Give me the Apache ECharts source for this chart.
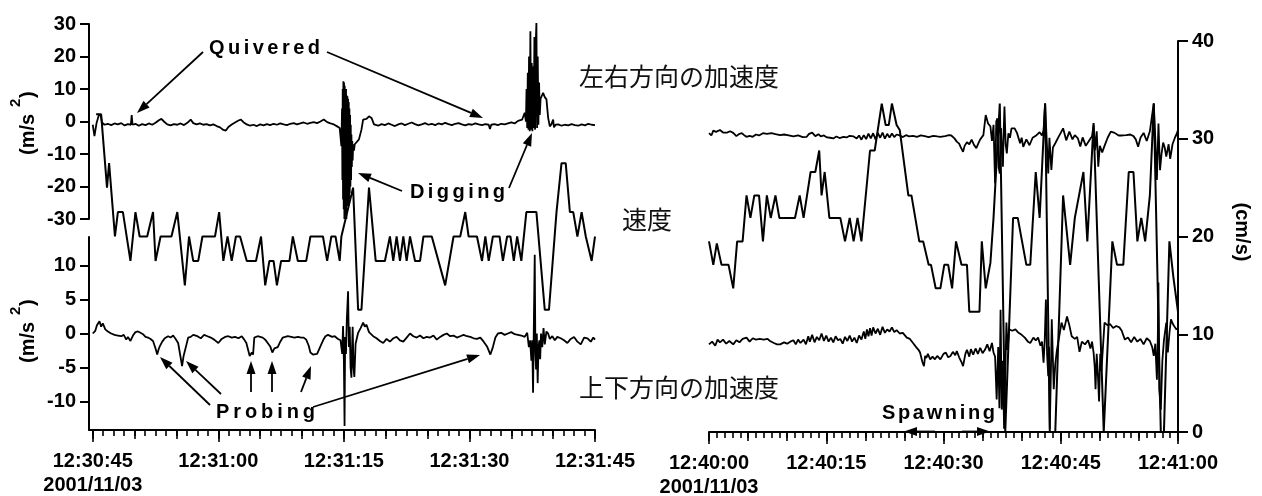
<!DOCTYPE html>
<html>
<head>
<meta charset="UTF-8">
<title>加速度と速度</title>
<script src="https://cdn.jsdelivr.net/npm/echarts@6/dist/echarts.min.js"></script>
</head>
<body style="margin:0;background:#fff">
<div id="main" style="width:1262px;height:496px"></div>
<script>
// time in seconds from the start of each panel, value
var leftTimeLabels = ['12:30:45\n2001/11/03', '12:31:00', '12:31:15', '12:31:30', '12:31:45'];
var rightTimeLabels = ['12:40:00\n2001/11/03', '12:40:15', '12:40:30', '12:40:45', '12:41:00'];
var labelSeconds = [0, 15, 30, 45, 60];
var vertTicks = [-10, -5, 0, 5, 10];

// left panel: lateral acceleration (m/s2)
var leftLat = [
[0,-1],[0.2,-4.5],[0.45,-0.5],[0.7,1.8],[0.95,2],[1.1,-0.3],[1.4,-1],[1.8,-0.7],[2.2,-1.1],[2.6,-0.6],[3.0,-0.9],[3.4,-0.5],[3.8,-1.2],[4.2,-0.8],[4.55,-1],[4.65,2],[4.75,-1],[5.1,-0.7],[5.5,-1.3],[5.9,-0.8],[6.3,-1.1],[6.7,-0.6],[7.1,-1],[7.5,-0.4],[7.9,0.4],[8.2,0.8],[8.5,0],[8.9,-0.9],[9.3,-1.2],[9.7,-0.8],[10.1,-1],[10.5,-0.6],[10.9,-1.1],[11.3,-0.4],[11.7,0.6],[12.0,-0.5],[12.4,-0.9],[12.8,-0.6],[13.2,-1],[13.6,-0.8],[14.0,-1.2],[14.4,-0.9],[14.8,-1.4],[15.2,-1.8],[15.6,-2.6],[15.9,-2.8],[16.2,-1.7],[16.6,-0.9],[17.0,-0.3],[17.4,0.3],[17.7,0.6],[18.0,-0.2],[18.4,-0.9],[18.8,-1.3],[19.2,-1],[19.6,-1.4],[20.0,-0.9],[20.4,-1.2],[20.8,-0.8],[21.2,-1.1],[21.6,-0.7],[22.0,-1],[22.4,-0.6],[22.8,-0.9],[23.2,-1.1],[23.6,-0.7],[24.0,-0.5],[24.4,-0.9],[24.8,-0.6],[25.2,-0.3],[25.6,-0.7],[26.0,-0.4],[26.4,-0.2],[26.8,-0.5],[27.2,0],[27.6,0.6],[28.0,-0.2],[28.4,-0.6],[28.8,-0.9],[29.2,-1.5],[29.5,-2],[29.7,-7.6],
[29.78,4],[29.82,-18],[29.86,10],[29.9,-24],[29.94,12.4],[29.98,-27],[30.02,12],[30.06,-30],[30.1,11],[30.14,-29],[30.18,9],[30.22,-27],[30.26,10],[30.3,-30],[30.34,8],[30.38,-26],[30.42,7.8],[30.46,-25],[30.5,7],[30.54,-26],[30.58,6],[30.62,-24],[30.66,4],[30.7,-22],[30.74,2],[30.78,-20],[30.82,-1],[30.86,-18],[30.9,-4],[30.95,-14],[31.0,-6],[31.05,-12],[31.1,-7],[31.2,-9],[31.3,-7],
[31.5,-7],[31.8,-5.5],[32.1,-2.5],[32.3,0.6],[32.7,0.8],[33.0,1.6],[33.3,1.1],[33.6,-0.9],[34.1,-1.3],[34.5,-0.8],[34.9,-1.1],[35.3,-0.6],[35.7,-1],[36.1,-1.4],[36.5,-0.9],[36.9,-0.6],[37.3,-1.1],[37.7,-0.7],[38.1,-0.3],[38.5,-0.8],[38.9,-1.2],[39.3,-0.9],[39.7,-0.5],[40.1,-1],[40.5,-0.7],[40.9,-1.1],[41.3,-0.6],[41.7,-0.9],[42.1,-0.4],[42.5,-0.8],[42.9,-1.1],[43.3,-0.7],[43.7,-0.5],[44.1,-0.9],[44.5,-1.2],[44.9,-0.8],[45.3,-1],[45.7,-0.6],[46.1,-0.9],[46.5,-1.1],[46.9,-0.8],[47.3,-1],[47.45,-2.3],[47.6,-1],[48.0,-0.8],[48.4,-1.1],[48.8,-0.7],[49.2,-0.9],[49.6,-0.6],[50.0,-0.3],[50.4,-0.6],[50.8,0.2],[51.3,0.6],[51.6,2.7],
[51.75,0],[51.82,10],[51.9,-2],[51.97,15],[52.05,-2.5],[52.12,20],[52.2,-3],[52.28,27.8],[52.36,-2.5],[52.44,18],[52.52,-3],[52.6,17],[52.68,-2],[52.76,26],[52.84,-2.5],[52.92,24],[53.0,30.4],[53.08,-2],[53.16,20],[53.24,-1],[53.32,12],[53.4,2],[53.5,7],[53.65,6.8],[53.8,8.8],[54.0,7.5],[54.2,6.8],[54.4,1.2],[54.6,-1.5],[54.8,-0.8],[55.0,0.6],[55.1,-1.8],[55.3,-1],[55.6,-0.9],[56.0,-1.3],[56.4,-1],[56.8,-1.2],[57.2,-0.8],[57.6,-1.1],[58.0,-1.3],[58.4,-0.9],[58.8,-1.2],[59.2,-0.7],[59.6,-1],[60,-1.1]
];

// left panel: vertical acceleration (m/s2)
var leftVert = [
[0,0],[0.3,0.4],[0.5,1.2],[0.8,1.8],[1.0,1.0],[1.2,1.5],[1.5,0.6],[1.8,0.3],[2.2,0],[2.6,-0.2],[3.0,-0.3],[3.4,-0.4],[3.7,-0.2],[4.0,-0.9],[4.2,-0.5],[4.5,-1.1],[4.8,-0.3],[5.1,0.2],[5.4,0.3],[5.7,0.1],[6.0,-0.1],[6.3,-0.5],[6.6,-0.6],[6.9,-0.8],[7.2,-1.1],[7.5,-2.2],[7.7,-3.1],[7.85,-2.4],[8.0,-1.9],[8.3,-1.2],[8.6,-0.7],[9.0,-0.4],[9.3,-0.6],[9.6,-0.3],[9.9,-0.8],[10.2,-1.4],[10.45,-3.2],[10.67,-4.8],[10.85,-3.3],[11.0,-3.3],[11.2,-1.6],[11.4,-0.6],[11.7,-0.5],[12.0,-0.2],[12.5,-0.4],[12.9,-0.7],[13.3,-0.2],[13.7,-0.4],[14.1,-0.6],[14.5,-0.9],[15.0,-1.4],[15.4,-0.8],[15.8,-0.5],[16.2,-0.4],[16.6,-0.6],[17.0,-0.5],[17.4,-0.7],[17.8,-0.4],[18.1,-0.9],[18.35,-1.4],[18.6,-2.6],[18.75,-3.3],[19.0,-2.8],[19.15,-3.1],[19.3,-0.6],[19.7,-0.4],[20.0,-0.5],[20.3,-0.6],[20.6,-0.9],[20.9,-1.4],[21.2,-1.9],[21.45,-2.8],[21.7,-2.2],[21.9,-2.4],[22.1,-2.0],[22.4,-1.2],[22.7,-0.6],[23.0,-0.5],[23.3,-0.4],[23.7,-0.5],[24.1,-0.6],[24.5,-0.5],[24.9,-0.6],[25.2,-0.6],[25.5,-0.9],[25.8,-1.8],[26.0,-2.8],[26.3,-3.1],[26.5,-3.3],[26.8,-3.0],[27.0,-3.1],[27.3,-1.6],[27.6,-0.8],[27.8,-0.4],[28.1,-0.2],[28.3,-0.1],[28.6,-0.5],[28.9,-0.4],[29.3,-0.8],[29.6,-1],
[29.8,-3],[29.9,1.1],[30.0,-4],[30.08,-13.6],[30.15,-0.5],[30.25,-3],[30.35,2],[30.5,6.2],[30.6,-2],[30.7,1],[30.8,-5],[30.9,-6.5],[30.98,-2],[31.05,1],[31.15,-5],[31.25,-6.4],[31.4,-1.5],[31.7,0.1],[32.0,0.8],[32.3,1.6],[32.5,1.0],[32.7,1.3],[33.0,0.2],[33.5,-0.4],[33.9,-0.7],[34.3,-1.1],[34.7,-1.4],[35.1,-0.8],[35.5,-1.2],[35.9,-0.7],[36.3,-0.5],[36.7,-1.0],[37.1,-1.2],[37.5,-0.6],[37.9,0],[38.3,-0.4],[38.7,-0.6],[39.1,-0.3],[39.5,-0.7],[39.9,-0.5],[40.3,-0.6],[40.7,-0.3],[41.1,-0.9],[41.5,-0.5],[41.9,-0.2],[42.3,0],[42.7,-0.4],[43.1,-0.3],[43.5,-0.6],[43.9,-0.4],[44.3,-0.2],[44.7,-0.4],[45.1,-0.5],[45.5,-0.7],[45.9,-0.8],[46.3,-0.6],[46.7,-1.2],[47.1,-1.9],[47.5,-3.1],[47.8,-2.0],[48.1,-0.6],[48.4,0],[48.8,0.1],[49.2,-0.2],[49.6,0],[50.0,0.2],[50.4,-0.1],[50.8,-0.2],[51.2,-0.3],[51.6,-0.5],[51.9,0.1],
[52.1,-2],[52.25,-1],[52.4,-4],[52.5,-1],[52.6,-8.7],[52.7,2],[52.8,11.6],[52.88,-3],[52.96,-5.3],[53.05,0],[53.15,-7.3],[53.25,-2],[53.35,-1],[53.45,-3.8],[53.55,0],[53.7,-2],[53.85,0.8],[54.0,-1.6],[54.2,0.3],[54.4,0],[54.6,-0.8],[54.9,-0.4],[55.2,-1],[55.5,-0.5],[55.9,-0.7],[56.3,-1.0],[56.7,-1.4],[57.1,-0.8],[57.5,-0.5],[57.9,-1.2],[58.3,-1.6],[58.7,-0.6],[59.1,-0.7],[59.5,-1.2],[59.8,-0.6],[60,-0.9]
];

// left panel: speed (cm/s)
var leftSpeed = [
[0.4,32.5],[1.0,32.5],[1.7,25],[1.95,27.5],[2.65,20],[3.0,22.5],[3.6,22.5],[4.5,17.5],[5.1,22.5],[5.6,20],[6.5,20],[7.2,22.5],[7.5,17.5],[8.1,20],[9.4,20],[10.1,22.5],[11.0,15],[11.5,20],[12.0,17.5],[12.6,17.5],[13.1,20],[14.6,20],[15.1,22.5],[15.6,17.5],[16.1,20],[16.6,17.5],[17.1,20],[17.6,20],[18.4,17.5],[19.5,17.5],[20.1,20],[20.6,15],[21.1,17.5],[21.6,17.5],[22.0,15],[22.5,17.5],[23.5,17.5],[23.9,20],[24.5,17.5],[25.5,17.5],[26.0,20],[27.5,20],[28.0,17.5],[28.5,20],[29.0,20],[29.5,17.5],[29.7,20],[31.1,25],[31.7,12.5],[32.1,12.5],[33.0,25],[33.8,17.5],[34.9,17.5],[35.5,20],[35.9,17.5],[36.3,20],[36.7,17.5],[37.1,20],[37.5,17.5],[37.9,20],[38.5,17.5],[39.1,17.5],[39.5,20],[40.5,20],[42.1,15],[43.1,20],[43.9,20],[44.5,22.5],[44.9,20],[45.9,20],[46.5,17.5],[46.9,20],[47.3,17.5],[47.8,20],[48.6,20],[49.0,17.5],[49.5,20],[49.9,20],[50.3,17.5],[50.7,20],[51.2,17.5],[51.8,22.5],[53.0,22.5],[54.0,12.5],[54.5,12.5],[55.4,22.5],[56.0,27.5],[56.5,27.5],[57.0,22.5],[57.4,22.5],[57.9,20],[58.4,22.5],[58.9,20],[59.6,17.5],[60,20]
];

// right panel: lateral acceleration
var rightLat = [
[0,0.4],[0.3,-0.3],[0.55,1.2],[0.9,0.8],[1.4,1.4],[1.8,0.6],[2.3,0.6],[2.7,1.0],[3.1,0.5],[3.5,-0.5],[3.9,0.2],[4.2,0.4],[4.5,-0.2],[4.8,-0.7],[5.2,-0.4],[5.6,-0.7],[6.0,0],[6.4,-0.3],[6.9,0.4],[7.4,0.2],[8.0,0.4],[8.5,0.1],[9.1,-0.2],[9.6,0],[10.2,-0.3],[10.8,-0.6],[11.4,-0.3],[12.0,-0.8],[12.5,-0.7],[12.8,0.2],[13.2,0.6],[13.6,-0.5],[14.0,0.1],[14.3,-0.6],[14.7,-0.3],[15.1,-0.9],[15.5,-1.0],[15.9,-1.2],[16.3,-0.6],[16.7,-1.1],[17.2,-0.7],[17.6,-0.9],[18.0,-0.4],[18.5,-0.6],[18.9,-1.2],[19.2,-0.3],[19.5,-1.6],[19.8,-0.2],[20.1,-1.4],[20.4,0.3],[20.7,-1.2],[21.0,0.4],[21.3,-1.5],[21.6,0.5],[21.9,-1.0],[22.2,0.6],[22.5,-1.3],[22.8,0.2],[23.1,-0.9],[23.4,0.3],[23.7,-0.8],[24.0,0],[24.4,-0.3],[24.8,-0.8],[25.2,-0.2],[25.6,-0.6],[26.1,-0.4],[26.6,-0.7],[27.1,-0.3],[27.6,-0.5],[28.1,-0.8],[28.7,-0.4],[29.2,-0.6],[29.6,-0.7],[30.2,-0.5],[30.7,-0.2],[31.0,-0.3],[31.4,-1.2],[31.7,-2.2],[32.0,-2.8],[32.2,-3.9],[32.5,-5.3],[32.7,-3.5],[33.0,-2.4],[33.3,-3.0],[33.6,-1.6],[33.9,-3.2],[34.2,-4.2],[34.5,-2.5],[34.7,-1.5],[35.1,-0.2],[35.4,6],[35.7,3.4],[36.0,2.5],[36.2,-2],[36.4,3],[36.6,-15],[36.75,4],[36.9,5],[37.05,-10],[37.2,-12],[37.35,2],[37.5,-6],[37.6,-9.9],[37.7,1],[37.8,8.6],[37.95,-3],[38.1,-5.8],[38.3,0.4],[38.5,-1],[38.7,1.9],[39.1,1.9],[39.4,0.5],[39.8,-2.7],[40.0,-1],[40.2,-3.8],[40.6,-1.5],[41.0,-3.3],[41.4,-1],[41.9,-0.2],[42.3,0.7],[42.6,-0.3],[42.8,1.2],[43.0,9.6],[43.15,1],[43.4,-12],[43.55,-1],[43.8,-10.9],[44.0,-4],[44.3,-2.7],[44.7,-0.8],[45.0,0.5],[45.3,1.9],[45.7,-1.8],[46.1,0.9],[46.5,-1.5],[46.8,-0.2],[47.2,-1.2],[47.5,-3.7],[47.8,-0.9],[48.2,-3.5],[48.6,-2],[49.0,-0.5],[49.2,2.9],[49.4,-4.8],[49.6,1],[49.8,-9.9],[50.0,-3.5],[50.3,-5.5],[50.6,-3.5],[51.0,-1],[51.4,0.9],[51.9,0.5],[52.4,-0.3],[52.9,-0.3],[53.4,-0.2],[53.9,0],[54.3,-0.5],[54.6,-1.5],[54.9,-3.8],[55.2,-1],[55.6,0.5],[56.0,-2],[56.4,1],[56.9,9.6],[57.1,-1.5],[57.3,-14],[57.5,3.4],[57.7,-11],[57.9,-5.8],[58.1,-2.5],[58.3,-4],[58.5,-6.8],[58.8,-3],[59.0,-7.5],[59.3,-3],[59.6,-1],[59.8,0],[60,1.4]
];

// right panel: vertical acceleration
var rightVert = [
[0,-1.6],[0.4,-1.2],[0.8,-1.8],[1.1,-0.9],[1.4,-1.3],[1.8,-0.9],[2.2,-1.5],[2.6,-1.1],[3.1,-1.6],[3.5,-1.0],[3.9,-1.3],[4.3,-0.8],[4.8,-0.6],[5.2,-1.2],[5.6,-0.7],[6.0,-0.9],[6.5,-0.8],[7.0,-0.9],[7.5,-0.8],[7.8,-1.1],[8.3,-1.4],[8.7,-1.6],[9.1,-1.6],[9.6,-1.3],[10.0,-1.5],[10.4,-1.2],[10.8,-1.0],[11.1,-1.6],[11.4,-0.9],[11.7,-1.4],[12.1,-0.9],[12.4,-1.6],[12.7,-0.4],[12.9,-1.2],[13.2,-0.2],[13.5,-1.3],[13.8,-0.5],[14.1,-1.0],[14.4,0],[14.7,-1.1],[15.0,-0.3],[15.3,-1.2],[15.6,-0.6],[15.9,-1.3],[16.2,-0.4],[16.5,-1.0],[16.8,-0.8],[17.1,-1.5],[17.4,-0.5],[17.7,-1.1],[18.0,-0.3],[18.3,-1.2],[18.6,-0.6],[18.9,-1.4],[19.2,-0.3],[19.5,-0.9],[19.8,0.3],[20.0,-0.8],[20.2,0.6],[20.4,-0.4],[20.6,0.8],[20.8,-0.3],[21.0,0.9],[21.3,0],[21.6,0.7],[21.9,-0.2],[22.2,1.0],[22.5,0.1],[22.8,0.6],[23.1,0.3],[23.4,0.9],[23.7,0.2],[24.0,0.5],[24.4,0],[24.8,0.1],[25.3,-0.6],[25.7,-0.8],[26.1,-1.4],[26.5,-2.0],[26.8,-2.4],[27.0,-2.8],[27.3,-4.2],[27.5,-4.8],[27.65,-3.3],[27.8,-3.6],[28.0,-3.0],[28.3,-3.8],[28.6,-3.4],[28.9,-3.8],[29.2,-3.3],[29.6,-3.8],[30.0,-3.0],[30.3,-2.8],[30.6,-3.5],[30.9,-3.3],[31.2,-2.7],[31.5,-3.2],[31.7,-2.6],[32.0,-3.5],[32.3,-4.2],[32.5,-4.8],[32.8,-3.0],[33.0,-2.4],[33.3,-3.4],[33.5,-2.3],[33.8,-3.1],[34.1,-2.2],[34.4,-3.0],[34.7,-2.1],[35.0,-2.9],[35.3,-2.4],[35.6,-1.6],[35.9,-2.6],[36.2,-1.4],[36.4,-2.8],[36.6,-3.4],[36.8,-9.7],[37.0,-2],[37.15,-11],[37.3,3.5],[37.45,-11.2],[37.6,-4],[37.75,-14],[37.9,-6],[38.05,1.6],[38.2,-2.4],[38.4,0.6],[38.8,0.4],[39.2,0.6],[39.6,0.1],[40.0,-0.2],[40.4,-0.6],[40.8,-1.2],[41.1,-1.4],[41.5,-0.6],[41.8,-1.0],[42.1,-0.6],[42.4,-1.8],[42.6,-1.2],[42.8,-4.3],[42.95,-1],[43.1,5],[43.25,-3],[43.4,-6.3],[43.5,-2],[43.6,-14],[43.75,-5],[43.85,2.1],[44.0,-4],[44.1,-8.2],[44.3,-4.5],[44.5,-2.5],[44.8,-0.5],[45.1,1.6],[45.4,0.5],[45.8,2.5],[46.1,1.2],[46.4,-0.4],[46.8,-0.8],[47.1,-0.5],[47.4,-2.7],[47.7,-1.2],[48.1,-1.6],[48.5,-1.0],[48.8,-2.2],[49.0,-1.2],[49.2,-2.8],[49.35,-5],[49.45,-8.2],[49.6,-3],[49.75,-6],[49.9,-10],[50.05,-3],[50.2,-5.5],[50.4,-2],[50.6,1.6],[51.0,1.2],[51.3,1.4],[51.7,0.8],[52.1,1.1],[52.5,0.9],[52.8,0.4],[53.2,-0.9],[53.6,-0.6],[54.0,-1.3],[54.4,-0.5],[54.8,-1.2],[55.2,-0.8],[55.6,-1.6],[56.0,-0.7],[56.4,-1.1],[56.7,-2.0],[56.9,-3.3],[57.1,-1.5],[57.3,-6.8],[57.4,-2],[57.5,7.5],[57.6,-8.2],[57.8,-11.2],[58.0,-4],[58.2,-1],[58.5,1.6],[58.7,-2.8],[58.9,0],[59.1,2.1],[59.3,1.5],[59.5,1.1],[59.8,0.6],[60,0.8]
];

// right panel: speed (cm/s)
var rightSpeed = [
[0,19.5],[0.55,17.1],[1.0,19.3],[1.6,17.1],[2.5,17.1],[3.1,14.7],[3.6,19.5],[4.3,19.5],[4.8,24.2],[5.3,21.9],[5.8,24.2],[6.4,24.2],[6.9,19.5],[7.4,24.2],[7.9,21.9],[8.5,24.2],[9.0,21.9],[11.0,21.9],[11.6,24.2],[12.1,21.9],[13.0,26.6],[13.6,26.6],[14.1,28.8],[14.4,24.2],[14.8,26.6],[15.4,21.9],[16.8,21.9],[17.4,19.5],[18.0,21.9],[18.5,19.5],[19.0,21.9],[19.5,19.5],[20.6,28.8],[21.2,28.8],[22.1,33.6],[22.6,31.4],[23.0,31.4],[23.4,33.6],[24.0,31.4],[24.4,30.9],[25.5,24.2],[25.9,24.2],[26.9,19.5],[27.4,19.5],[28.1,17.1],[28.4,17.1],[29.0,14.7],[29.6,14.7],[30.1,17.1],[30.6,17.1],[31.1,14.7],[31.6,19.5],[32.3,17.1],[33.0,17.1],[33.3,12.3],[34.6,12.3],[34.9,19.5],[35.4,14.7],[36.0,17.3],[36.4,21.9],[37.2,33.6],[37.9,0],[38.1,0],[38.9,21.9],[39.5,21.9],[40.6,17.1],[41.1,17.1],[41.8,26.6],[42.3,21.9],[43.0,33.6],[43.6,0],[44.3,0],[45.3,24.2],[46.2,17.1],[46.8,21.9],[47.9,26.6],[48.4,19.5],[49.2,31.6],[50.5,0],[51.6,19.5],[52.2,17.1],[53.0,17.1],[53.7,26.6],[54.3,26.6],[54.8,19.5],[55.3,21.9],[55.8,19.5],[56.4,24.2],[56.9,33.6],[57.8,0],[58.2,0],[58.9,19.5],[59.4,15.9],[60,12.3]
];

var FONT = '"Liberation Sans", Arial, Helvetica, sans-serif';
var CJK = '"Noto Sans CJK JP", "Noto Sans CJK SC", sans-serif';

// tick positions on the time axes
function steps(step) {
  var out = [];
  for (var v = 0; v <= 60.0001; v += step) out.push(Math.round(v * 100) / 100);
  return out;
}

var myChart = echarts.init(document.getElementById('main'));

var grids = [
  {left: 89, top: 24, width: 506, height: 195},   // 0 left lateral
  {left: 89, top: 237, width: 506, height: 193},  // 1 left vertical
  {left: 89, top: 41, width: 506, height: 391},   // 2 left speed
  {left: 709, top: 24, width: 469, height: 195},  // 3 right lateral
  {left: 709, top: 237, width: 469, height: 193}, // 4 right vertical
  {left: 709, top: 41, width: 469, height: 391}   // 5 right speed
];
grids.forEach(function (g) { g.outerBoundsMode = 'none'; g.containLabel = false; });

function hiddenX(g, min) {
  return {type: 'value', gridIndex: g, min: min, max: 60, show: false};
}
function hiddenY(g, min, max) {
  return {type: 'value', gridIndex: g, min: min, max: max, show: false};
}
// time axis layer: line only on the first layer, ticks of given length
function timeAxis(g, min, ticks, len, withLine, labels) {
  var ax = {
    type: 'value', gridIndex: g, min: min, max: 60, position: 'bottom',
    axisLine: {show: withLine, onZero: false, lineStyle: {color: '#000', width: 2}},
    axisTick: {show: true, customValues: ticks, length: len, lineStyle: {color: '#000', width: 1.6}},
    axisLabel: {show: false},
    splitLine: {show: false}
  };
  if (labels) {
    ax.axisLabel = {
      show: true, customValues: labelSeconds, margin: 19,
      color: '#000', fontSize: 20, fontWeight: 'bold', fontFamily: FONT, lineHeight: 24,
      formatter: function (v) { return labels[labelSeconds.indexOf(Math.round(v))] || ''; }
    };
  }
  return ax;
}
function valueAxis(g, min, max, pos, extra) {
  var ax = {
    type: 'value', gridIndex: g, min: min, max: max, position: pos,
    axisLine: {show: true, onZero: false, lineStyle: {color: '#000', width: 2}},
    axisTick: {show: true, length: 9, lineStyle: {color: '#000', width: 2}},
    axisLabel: {color: '#000', fontSize: 20, fontWeight: 'bold', fontFamily: FONT, margin: 13},
    splitLine: {show: false}
  };
  for (var k in extra) {
    if (typeof extra[k] === 'object' && !Array.isArray(extra[k])) Object.assign(ax[k], extra[k]);
    else ax[k] = extra[k];
  }
  return ax;
}

var xAxes = [
  hiddenX(0, -0.45),                                          // 0
  timeAxis(1, -0.45, steps(1.25), 6, true),                   // 1
  timeAxis(1, -0.45, steps(5), 9, false),                     // 2
  timeAxis(1, -0.45, labelSeconds, 12, false, leftTimeLabels),// 3
  hiddenX(2, -0.45),                                          // 4
  hiddenX(3, 0),                                              // 5
  hiddenX(4, 0),                                              // 6
  timeAxis(5, 0, steps(1), 6, true),                          // 7
  timeAxis(5, 0, steps(5), 9, false),                         // 8
  timeAxis(5, 0, labelSeconds, 12, false, rightTimeLabels)    // 9
];
var yAxes = [
  valueAxis(0, -30, 30, 'left', {interval: 10}),
  valueAxis(1, -14.2, 14.2, 'left', {axisTick: {customValues: vertTicks}, axisLabel: {customValues: vertTicks}}),
  hiddenY(2, 0, 40),
  hiddenY(3, -26, 34),
  hiddenY(4, -14.2, 14.2),
  valueAxis(5, 0, 40, 'right', {interval: 10, axisTick: {length: 10}, axisLabel: {margin: 14}})
];

function trace(data, xi, yi, w) {
  return {
    type: 'line', data: data, xAxisIndex: xi, yAxisIndex: yi,
    showSymbol: false, symbol: 'none', silent: true, animation: false,
    lineStyle: {color: '#000', width: w}
  };
}

// annotation helpers
var measure = document.createElement('canvas').getContext('2d');
var ANN_FONT = 'bold 20px ' + FONT;
measure.font = ANN_FONT;
function spaced(str, x, y, width) {
  var ws = str.split('').map(function (c) { return measure.measureText(c).width; });
  var total = ws.reduce(function (a, b) { return a + b; }, 0);
  var gap = (width - total) / (str.length - 1);
  var els = [], cx = x;
  for (var i = 0; i < str.length; i++) {
    els.push({type: 'text', x: cx, y: y, silent: true,
      style: {text: str[i], font: ANN_FONT, fill: '#000', textAlign: 'left', align: 'left', textVerticalAlign: 'middle', verticalAlign: 'middle'}});
    cx += ws[i] + gap;
  }
  return els;
}
function arrow(x1, y1, x2, y2) {
  var a = Math.atan2(y2 - y1, x2 - x1), L = 13, W = 4.5;
  var bx = x2 - L * Math.cos(a), by = y2 - L * Math.sin(a);
  return [
    {type: 'line', silent: true, shape: {x1: x1, y1: y1, x2: bx, y2: by}, style: {stroke: '#000', lineWidth: 1.8}},
    {type: 'polygon', silent: true, shape: {points: [[x2, y2], [bx + W * Math.sin(a), by - W * Math.cos(a)], [bx - W * Math.sin(a), by + W * Math.cos(a)]]}, style: {fill: '#000'}}
  ];
}
function cjk(str, x, y) {
  return {type: 'text', x: x, y: y, silent: true,
    style: {text: str, font: '25px ' + CJK, fill: '#111', textAlign: 'left', align: 'left', textVerticalAlign: 'middle', verticalAlign: 'middle'}};
}
function unitLabel(x, y) {
  var f = 'bold 20px ' + FONT;
  return {type: 'group', x: x, y: y, rotation: Math.PI / 2, silent: true, children: [
    {type: 'text', x: 0, y: 0, style: {text: '(m/s', font: f, fill: '#000', textAlign: 'left', align: 'left', textVerticalAlign: 'middle', verticalAlign: 'middle'}},
    {type: 'text', x: 48, y: -12, style: {text: '2', font: 'bold 15px ' + FONT, fill: '#000', textAlign: 'left', align: 'left', textVerticalAlign: 'middle', verticalAlign: 'middle'}},
    {type: 'text', x: 57, y: 0, style: {text: ')', font: f, fill: '#000', textAlign: 'left', align: 'left', textVerticalAlign: 'middle', verticalAlign: 'middle'}}
  ]};
}

var graphics = [].concat(
  cjk('左右方向の加速度', 579, 76),
  cjk('速度', 622, 219),
  cjk('上下方向の加速度', 579, 387),
  spaced('Quivered', 209, 48, 111),
  spaced('Digging', 410, 192, 95),
  spaced('Probing', 216, 412, 99),
  spaced('Spawning', 882, 413, 113),
  arrow(203, 52, 137, 113),
  arrow(327, 52, 483, 118),
  arrow(402, 191, 358, 173),
  arrow(509, 188, 532, 133),
  arrow(210, 405, 160, 357),
  arrow(221, 394, 186, 361),
  arrow(251, 392, 251, 361),
  arrow(272, 392, 272, 361),
  arrow(301, 392, 311, 366),
  arrow(313, 407, 480, 355),
  arrow(935, 431.5, 904, 431.5),
  arrow(962, 431.5, 990, 431.5),
  unitLabel(28, 155),
  unitLabel(28, 363),
  {type: 'text', x: 1242, y: 232, rotation: -Math.PI / 2, silent: true,
    style: {text: '(cm/s)', font: 'bold 20px ' + FONT, fill: '#000', textAlign: 'center', align: 'center', textVerticalAlign: 'middle', verticalAlign: 'middle'}}
);

var option = {
  animation: false,
  backgroundColor: '#fff',
  grid: grids,
  xAxis: xAxes,
  yAxis: yAxes,
  series: [
    trace(leftLat, 0, 0, 1.8),
    trace(leftVert, 1, 1, 1.8),
    trace(leftSpeed, 4, 2, 2),
    trace(rightLat, 5, 3, 1.8),
    trace(rightVert, 6, 4, 1.8),
    trace(rightSpeed, 7, 5, 2)
  ],
  graphic: {elements: graphics}
};
myChart.setOption(option);
</script>
</body>
</html>
